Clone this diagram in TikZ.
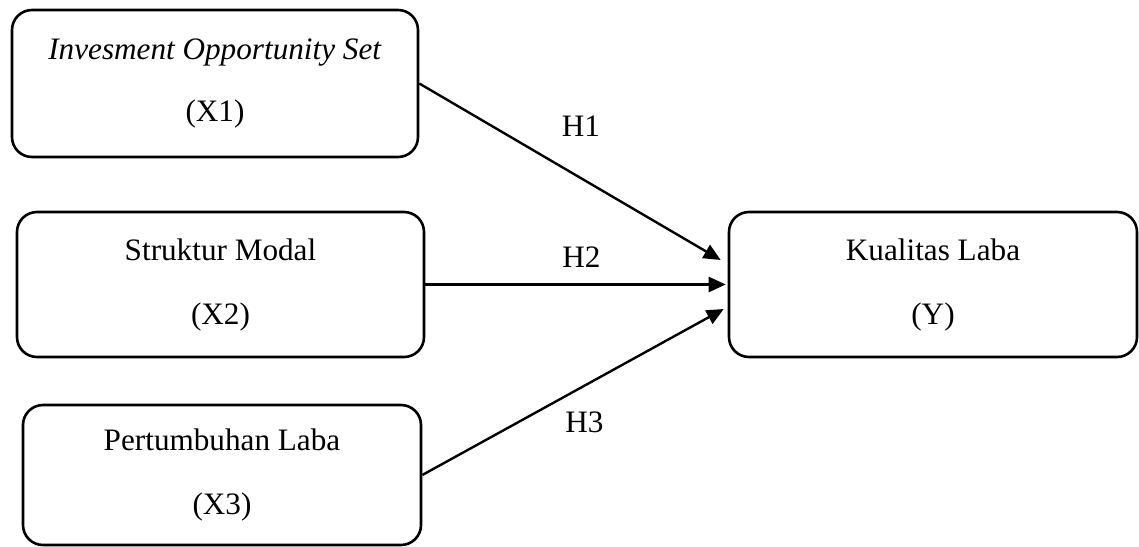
\documentclass[tikz,border=0pt]{standalone}
\usepackage{fontspec}
\setmainfont{Liberation Serif}
\usetikzlibrary{arrows.meta,calc}

\tikzset{
  varbox/.style={draw,line width=1.3pt,rounded corners=10pt,align=center,
    font=\fontsize{15.6}{32}\selectfont,inner sep=0pt},
  hlabel/.style={font=\fontsize{15.6}{18}\selectfont,inner sep=0pt},
  hyparrow/.style={line width=1.2pt,-{Triangle[length=8.5pt,width=7.5pt]}}
}

\begin{document}
\begin{tikzpicture}[x=0.5pt,y=-0.5pt]
  \useasboundingbox (0,0) rectangle (1139,546);
  % independent variables
  \node[varbox,minimum width=203pt,minimum height=73.5pt] (x1) at (215,83.5)
    {\textit{Invesment Opportunity Set}\\[-1pt](X1)};
  \node[varbox,minimum width=203.5pt,minimum height=72.5pt] (x2) at (220.5,284.5)
    {Struktur Modal\\(X2)};
  \node[varbox,minimum width=199pt,minimum height=70pt] (x3) at (222,475)
    {Pertumbuhan Laba\\(X3)};
  % dependent variable
  \node[varbox,minimum width=204pt,minimum height=72.5pt] (y) at (933,284.5)
    {Kualitas Laba\\(Y)};
  % hypotheses
  \draw[hyparrow] (x1.east) -- ($(y.west)+(-7,-24.5)$);
  \draw[hyparrow] (x2.east) -- ($(y.west)+(-2,0)$);
  \draw[hyparrow] (x3.east) -- ($(y.west)+(-4,24.5)$);
  \node[hlabel] (h1) at (581,126) {H1};
  \node[hlabel] (h2) at (581.5,257.5) {H2};
  \node[hlabel] (h3) at (584.5,422.5) {H3};
\end{tikzpicture}
\end{document}
